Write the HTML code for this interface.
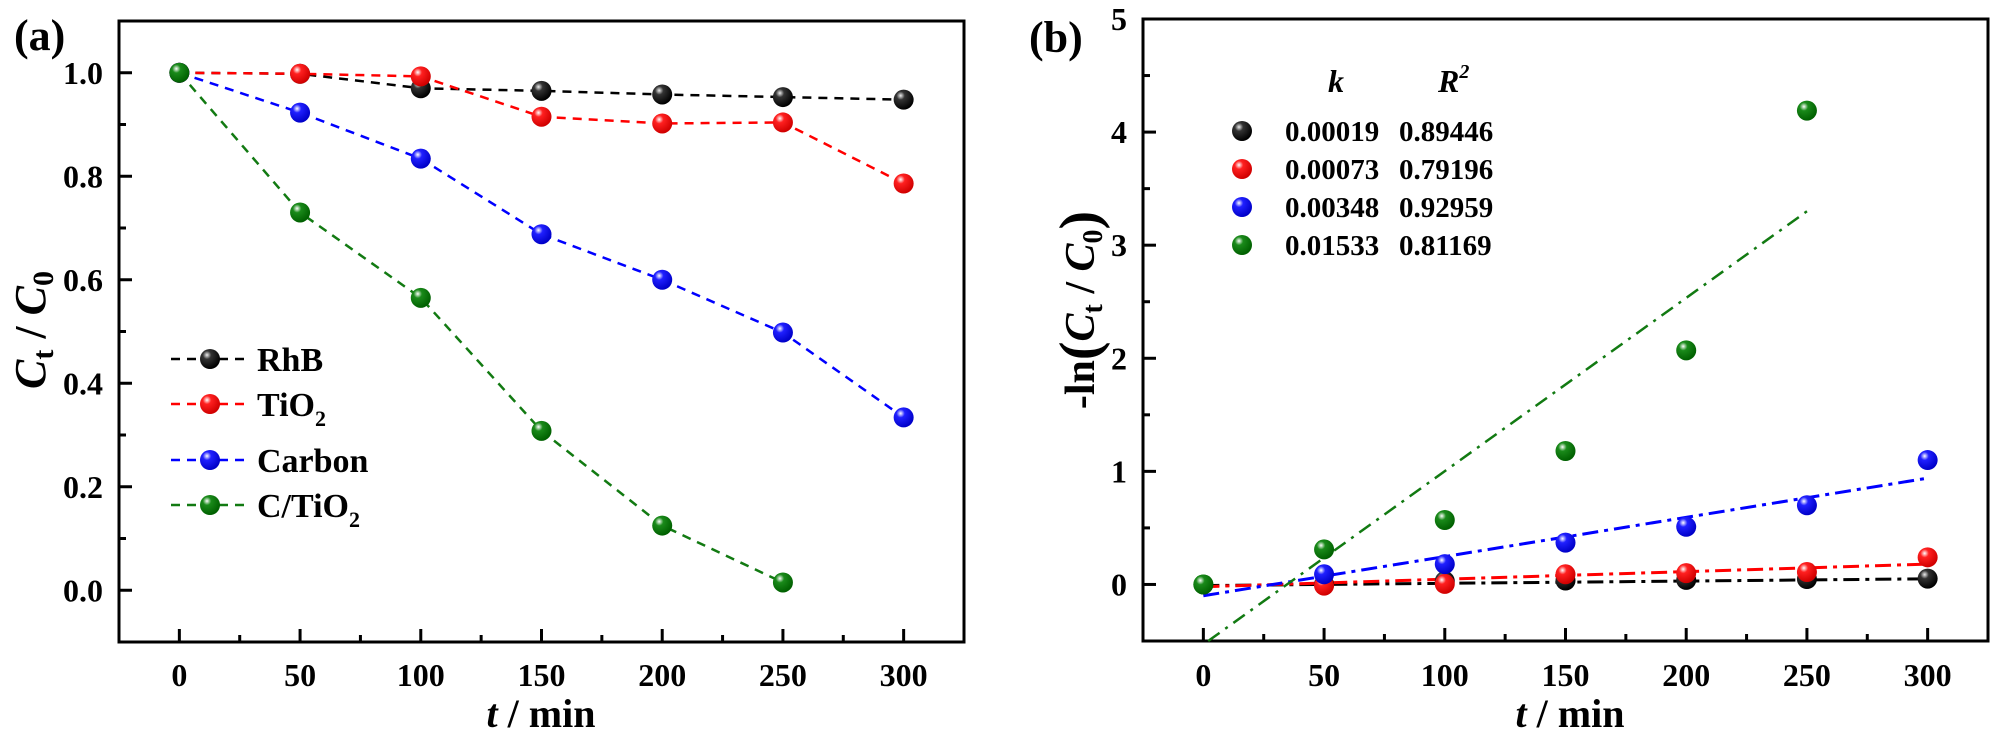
<!DOCTYPE html>
<html><head><meta charset="utf-8"><style>
html,body{margin:0;padding:0;background:#fff;}
svg{display:block;font-family:"Liberation Serif",serif;font-weight:bold;}
</style></head><body>
<svg id="chart" width="2000" height="735" viewBox="0 0 2000 735" xmlns="http://www.w3.org/2000/svg">
<defs>
<radialGradient id="g-black" cx="0.35" cy="0.3" r="0.7"><stop offset="0" stop-color="#eee"/><stop offset="0.3" stop-color="#333"/><stop offset="1" stop-color="#000"/></radialGradient>
<radialGradient id="g-red" cx="0.35" cy="0.3" r="0.7"><stop offset="0" stop-color="#fff"/><stop offset="0.3" stop-color="#ff2020"/><stop offset="1" stop-color="#d00000"/></radialGradient>
<radialGradient id="g-blue" cx="0.35" cy="0.3" r="0.7"><stop offset="0" stop-color="#fff"/><stop offset="0.3" stop-color="#2020ff"/><stop offset="1" stop-color="#0000c8"/></radialGradient>
<radialGradient id="g-green" cx="0.35" cy="0.3" r="0.7"><stop offset="0" stop-color="#fff"/><stop offset="0.3" stop-color="#1a8a1a"/><stop offset="1" stop-color="#006000"/></radialGradient>
</defs>
<g id="pa"></g>
<g id="pb"></g>
</svg>
<script>
// ---- Panel (a) data ----
const timesA = [0, 50, 100, 150, 200, 250, 300];
const seriesNamesA = ["RhB", "TiO2", "Carbon", "C/TiO2"];
const rhbA = [1.0, 0.998, 0.97, 0.965, 0.958, 0.953, 0.948];
const tio2A = [1.0, 0.998, 0.993, 0.915, 0.902, 0.904, 0.786];
const carbonA = [1.0, 0.923, 0.834, 0.688, 0.600, 0.498, 0.334];
const ctio2A = [1.0, 0.730, 0.565, 0.308, 0.125, 0.015];
const xTicksA = [0, 50, 100, 150, 200, 250, 300];
const yTicksA = [0.0, 0.2, 0.4, 0.6, 0.8, 1.0];
// ---- Panel (b) data ----
const timesB = [0, 50, 100, 150, 200, 250, 300];
const rhbB = [0.0, 0.002, 0.03, 0.035, 0.04, 0.048, 0.052];
const tio2B = [0.0, -0.01, 0.005, 0.09, 0.10, 0.11, 0.24];
const carbonB = [0.0, 0.09, 0.18, 0.37, 0.51, 0.70, 1.10];
const ctio2B = [0.0, 0.31, 0.57, 1.18, 2.07, 4.19];
const kValues = ["0.00019", "0.00073", "0.00348", "0.01533"];
const r2Values = ["0.89446", "0.79196", "0.92959", "0.81169"];
// fit lines: [x0, y0, x1, y1]
const fitRhB = [0, -0.01, 300, 0.05];
const fitTiO2 = [0, -0.02, 300, 0.18];
const fitCarbon = [0, -0.1, 300, 0.94];
const fitCTiO2 = [2, -0.5, 250, 3.3];
const xTicksB = [0, 50, 100, 150, 200, 250, 300];
const yTicksB = [0, 1, 2, 3, 4, 5];

const NS = "http://www.w3.org/2000/svg";
function mk(parent, tag, attrs, text){
  const e = document.createElementNS(NS, tag);
  for (const k in attrs) e.setAttribute(k, attrs[k]);
  if (text !== undefined) e.textContent = text;
  parent.appendChild(e);
  return e;
}
const colors = ["#000", "#ff0000", "#0000ff", "#127a12"];
const grads = ["url(#g-black)", "url(#g-red)", "url(#g-blue)", "url(#g-green)"];

function frame(g, L, R, T, B, xs, ys, xTicks, yTicks, xMinor, yMinor, yFmt){
  const f = mk(g, "rect", {x:L, y:T, width:R-L, height:B-T, fill:"none", stroke:"#000", "stroke-width":3});
  
  
  xTicks.forEach(v => {
    const t = mk(g, "line", {x1:xs(v), x2:xs(v), y1:B, y2:B-13, stroke:"#000", "stroke-width":3});
    
    
    const lb = mk(g, "text", {x:xs(v), y:686, "text-anchor":"middle", "font-size":32}, String(v));
    
    
  });
  xMinor.forEach(v => {
    const t = mk(g, "line", {x1:xs(v), x2:xs(v), y1:B, y2:B-7, stroke:"#000", "stroke-width":3});
    
    
  });
  yTicks.forEach(v => {
    const t = mk(g, "line", {x1:L, x2:L+13, y1:ys(v), y2:ys(v), stroke:"#000", "stroke-width":3});
    
    
    const lb = mk(g, "text", {x:L-16, y:ys(v)+11, "text-anchor":"end", "font-size":32}, yFmt(v));
    
    
  });
  yMinor.forEach(v => {
    const t = mk(g, "line", {x1:L, x2:L+7, y1:ys(v), y2:ys(v), stroke:"#000", "stroke-width":3});
    
    
  });
}
function ball(g, x, y, i, r){
  const c = mk(g, "circle", {cx:x, cy:y, r:r||10, fill:grads[i]});
  return c;
}

// ===== Panel A =====
(function(){
  const g = document.getElementById("pa");
  const L=119, R=964, T=21, B=642;
  const xs = v => L + (v + 25) / 350 * (R - L);
  const ys = v => T + (1.1 - v) / 1.2 * (B - T);
  frame(g, L, R, T, B, xs, ys, xTicksA, yTicksA, [25,75,125,175,225,275], [0.1,0.3,0.5,0.7,0.9], v => v.toFixed(1));
  const all = [rhbA, tio2A, carbonA, ctio2A];
  all.forEach((s, i) => {
    const pts = s.map((v, j) => xs(timesA[j]) + "," + ys(v)).join(" ");
    const pl = mk(g, "polyline", {points:pts, fill:"none", stroke:colors[i], "stroke-width":2.5, "stroke-dasharray":"9 7"});
    
    
  });
  all.forEach((s, i) => {
    s.forEach((v, j) => {
      const c = ball(g, xs(timesA[j]), ys(v), i, 10);
      
      
    });
  });
  // legend
  const ly = [359, 404, 460, 505];
  const labels = ["RhB", "TiO<tspan font-size='22' dy='10'>2</tspan>", "Carbon", "C/TiO<tspan font-size='22' dy='10'>2</tspan>"];
  ly.forEach((y, i) => {
    const ln = mk(g, "line", {x1:171, x2:250, y1:y, y2:y, stroke:colors[i], "stroke-width":2.5, "stroke-dasharray":"9 7"});
    
    
    const c = ball(g, 210, y, i, 10);
    
    
    const t = mk(g, "text", {x:257, y:y+12, "font-size":34});
    t.innerHTML = labels[i];
    
    
  });
  const pl = mk(g, "text", {x:14, y:50, "font-size":44}, "(a)");
  
  
  const xt = mk(g, "text", {x:541, y:727, "text-anchor":"middle", "font-size":40});
  xt.innerHTML = "<tspan font-style='italic'>t</tspan> / min";
  
  
  const yt = mk(g, "text", {x:0, y:0, "text-anchor":"middle", "font-size":44, transform:"translate(45,330) rotate(-90)"});
  yt.innerHTML = "<tspan font-style='italic'>C</tspan><tspan font-size='30' dy='8'>t</tspan><tspan dy='-8'> / </tspan><tspan font-style='italic'>C</tspan><tspan font-size='30' dy='8'>0</tspan>";
  
  
})();

// ===== Panel B =====
(function(){
  const g = document.getElementById("pb");
  const L=1143, R=1988, T=19, B=641;
  const xs = v => L + (v + 25) / 350 * (R - L);
  const ys = v => T + (5 - v) / 5.5 * (B - T);
  frame(g, L, R, T, B, xs, ys, xTicksB, yTicksB, [25,75,125,175,225,275], [0.5,1.5,2.5,3.5,4.5], v => String(v));
  const fits = [fitRhB, fitTiO2, fitCarbon, fitCTiO2];
  const names = ["rhb", "tio2", "carbon", "c-tio2"];
  fits.forEach((f, i) => {
    const ln = mk(g, "line", {x1:xs(f[0]), y1:ys(f[1]), x2:xs(f[2]), y2:ys(f[3]), stroke:colors[i], "stroke-width":i===3?2.5:3, "stroke-dasharray":i===3?"14 7 3 7":"16 6 4 6"});
    
    
  });
  const all = [ctio2B, rhbB, tio2B, carbonB];
  const idx = [3, 0, 1, 2];
  all.forEach((s, k) => {
    const i = idx[k];
    s.forEach((v, j) => {
      if (j === 0 && i !== 3) return;
      const c = ball(g, xs(timesB[j]), ys(v), i, 10);
      
      
    });
  });
  // green at 0 on top
  const c0 = ball(g, xs(timesB[0]), ys(ctio2B[0]), 3, 10);
  
  
  // legend
  const kh = mk(g, "text", {x:1336, y:92, "text-anchor":"middle", "font-size":32, "font-style":"italic"}, "k");
  
  
  const rh = mk(g, "text", {x:1438, y:92, "font-size":32, "font-style":"italic"});
  rh.innerHTML = "R<tspan font-size='20' dy='-14'>2</tspan>";
  
  
  const ly = [131, 169, 207, 245];
  ly.forEach((y, i) => {
    const c = ball(g, 1242, y, i, 10);
    
    
    const t1 = mk(g, "text", {x:1285, y:y+10, "font-size":29}, kValues[i]);
    
    
    const t2 = mk(g, "text", {x:1399, y:y+10, "font-size":29}, r2Values[i]);
    
    
  });
  const pl = mk(g, "text", {x:1029, y:52, "font-size":44}, "(b)");
  
  
  const xt = mk(g, "text", {x:1570, y:727, "text-anchor":"middle", "font-size":40});
  xt.innerHTML = "<tspan font-style='italic'>t</tspan> / min";
  
  
  const yt = mk(g, "text", {x:0, y:0, "text-anchor":"middle", "font-size":42, transform:"translate(1094,310) rotate(-90)"});
  yt.innerHTML = "-ln<tspan font-size='56' dy='4'>(</tspan><tspan font-style='italic' dy='-4'>C</tspan><tspan font-size='28' dy='8'>t</tspan><tspan dy='-8'> / </tspan><tspan font-style='italic'>C</tspan><tspan font-size='28' dy='8'>0</tspan><tspan font-size='56' dy='-4'>)</tspan>";
  
  
})();
</script>
</body></html>
